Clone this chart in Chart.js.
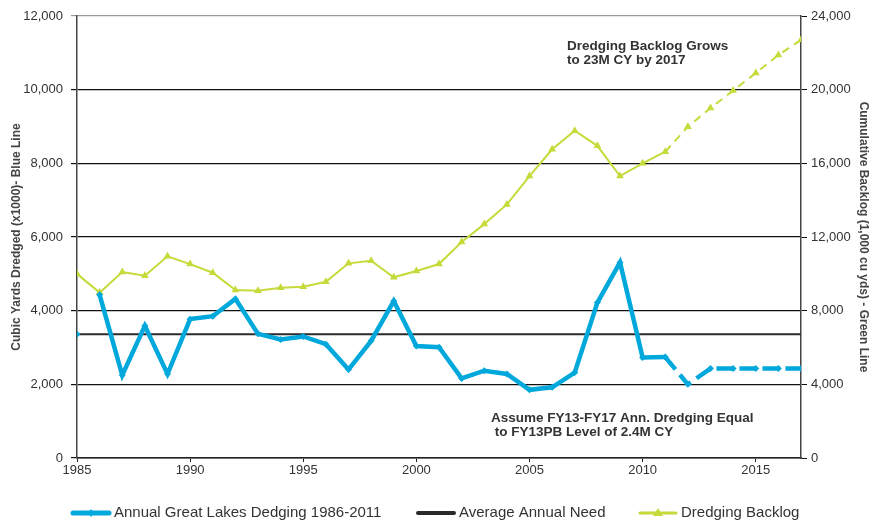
<!DOCTYPE html>
<html>
<head>
<meta charset="utf-8">
<script src="https://cdn.jsdelivr.net/npm/chart.js@4"></script>
<style>
  html, body { margin: 0; padding: 0; background: #fff; }
  #wrap { width: 878px; height: 523px; position: relative; }
</style>
</head>
<body>
<div id="wrap"><canvas id="myChart" width="878" height="523"></canvas></div>
<script>
// years 1985 - 2017, last five are the FY13-FY17 projection
let years = [1985, 1986, 1987, 1988, 1989, 1990, 1991, 1992, 1993, 1994, 1995,
    1996, 1997, 1998, 1999, 2000, 2001, 2002, 2003, 2004, 2005, 2006, 2007,
    2008, 2009, 2010, 2011, 2012, 2013, 2014, 2015, 2016, 2017];

// annual dredging, cubic yards x1000 (left axis)
let dredged = [3360, 4430, 2250, 3590, 2280, 3770, 3850, 4320, 3370, 3220, 3300,
    3090, 2400, 3180, 4260, 3040, 3010, 2160, 2370, 2280, 1850, 1920, 2320,
    4220, 5310, 2730, 2740, 2000, 2430, 2430, 2430, 2430, 2430];

// cumulative backlog, 1,000 cu yds (right axis)
let backlog = [10000, 8980, 10100, 9900, 10950, 10530, 10060, 9120, 9080, 9250, 9300,
    9570, 10570, 10710, 9810, 10150, 10530, 11730, 12700, 13770, 15310, 16760, 17770,
    16950, 15310, 16000, 16630, 17990, 19000, 19950, 20900, 21880, 22700];

let avgNeed = 3360;          // average annual need, x1000 cy
let projFrom = 2011;         // dashed from here on
let leftTicks = [0, 2000, 4000, 6000, 8000, 10000, 12000];
let rightTicks = [0, 4000, 8000, 12000, 16000, 20000, 24000];
let yearTicks = [1985, 1990, 1995, 2000, 2005, 2010, 2015];

const BLUE = "#00a8dc";
const GREEN = "#c6da3a";
const TXT = "#333333";
const SANS = "'Liberation Sans', Arial, sans-serif";

// text notes, placed in data units (year, left-axis value)
let notes = [
    {x: 2006.66, y: 11190, lines: ["Dredging Backlog Grows", "to 23M CY by 2017"]},
    {x: 2003.3, y: 1090, lines: ["Assume FY13-FY17 Ann. Dredging Equal", " to FY13PB Level of 2.4M CY"]}
];

function pts(vals){
    return vals.map((v, i) => ({x: years[i], y: v}));
}

function fmt(v){
    return Number(v).toLocaleString("en-US");
}

// small line+marker swatch for the legend
function swatch(color, width, marker){
    const c = document.createElement("canvas");
    c.width = 42; c.height = 14;
    const g = c.getContext("2d");
    g.strokeStyle = color;
    g.fillStyle = color;
    g.lineWidth = width;
    g.lineCap = "round";
    g.beginPath(); g.moveTo(3, 7); g.lineTo(39, 7); g.stroke();
    if (marker == "diamond"){
        g.beginPath(); g.moveTo(21, 3); g.lineTo(24, 7); g.lineTo(21, 11); g.lineTo(18, 7); g.closePath(); g.fill();
    } else if (marker == "triangle"){
        g.beginPath(); g.moveTo(21, 2); g.lineTo(26, 10); g.lineTo(16, 10); g.closePath(); g.fill();
    }
    return c;
}

const notePlugin = {
    id: "notes",
    afterDatasetsDraw(chart){
        const ctx = chart.ctx;
        const xs = chart.scales.x, ys = chart.scales.y;
        ctx.save();
        ctx.font = "bold 13.5px " + SANS;
        ctx.fillStyle = TXT;
        ctx.textBaseline = "middle";
        notes.forEach(n => {
            const px = xs.getPixelForValue(n.x);
            const py = ys.getPixelForValue(n.y);
            n.lines.forEach((t, i) => ctx.fillText(t, px, py + i * 14));
        });
        ctx.restore();
    }
};

const legendPlugin = {
    id: "bottomLegend",
    afterDraw(chart){
        const ctx = chart.ctx;
        const slots = [73, 418, 640];
        const y = 513;
        ctx.save();
        ctx.font = "15px " + SANS;
        ctx.fillStyle = TXT;
        ctx.textBaseline = "middle";
        chart.data.datasets.forEach((ds, i) => {
            ctx.drawImage(ds.swatch, slots[i] - 3, y - 7);
            ctx.fillText(ds.label, slots[i] + 41, y);
        });
        ctx.restore();
    }
};

drawChart();

function drawChart(){
    const ctx = document.querySelector("#myChart");

    new Chart(ctx, {
        type: "line",
        data: {
            datasets: [{
                label: "Annual Great Lakes Dedging 1986-2011",
                data: pts(dredged),
                yAxisID: "y",
                borderColor: BLUE,
                backgroundColor: BLUE,
                borderWidth: 4.5,
                pointStyle: "rectRot",
                pointRadius: 3.5,
                pointBorderWidth: 0,
                swatch: swatch(BLUE, 5, "diamond"),
                segment: {
                    // 1985 stands alone, 2011 on is the projection
                    borderColor: c => c.p0DataIndex == 0 ? "rgba(0,0,0,0)" : BLUE,
                    borderDash: c => c.p0.parsed.x >= projFrom ? [16, 7] : undefined
                }
            }, {
                label: "Average Annual Need",
                data: [{x: years[0], y: avgNeed}, {x: years[years.length - 1], y: avgNeed}],
                yAxisID: "y",
                borderColor: "#2a2a2a",
                borderWidth: 2,
                pointRadius: 0,
                swatch: swatch("#2a2a2a", 4, null)
            }, {
                label: "Dredging Backlog",
                data: pts(backlog),
                yAxisID: "y2",
                borderColor: GREEN,
                backgroundColor: GREEN,
                borderWidth: 2,
                pointStyle: "triangle",
                pointRadius: 4.5,
                pointBorderWidth: 0,
                swatch: swatch(GREEN, 3, "triangle"),
                segment: {
                    borderDash: c => c.p0.parsed.x >= projFrom ? [8, 6] : undefined
                }
            }]
        },
        options: {
            responsive: false,
            animation: false,
            layout: {padding: {top: 16, bottom: 44, left: 0, right: 0}},
            plugins: {
                legend: {display: false},
                tooltip: {enabled: false}
            },
            scales: {
                x: {
                    type: "linear",
                    min: 1985,
                    max: 2017,
                    afterBuildTicks: s => { s.ticks = yearTicks.map(v => ({value: v})); },
                    afterFit: s => { s.height = 21; },
                    ticks: {
                        callback: v => String(v),
                        color: TXT,
                        font: {family: SANS, size: 13},
                        padding: 1,
                        maxRotation: 0
                    },
                    grid: {drawOnChartArea: false, color: "#222", tickLength: 4},
                    border: {color: "#222", width: 1.5}
                },
                y: {
                    position: "left",
                    min: 0,
                    max: 12000,
                    afterBuildTicks: s => { s.ticks = leftTicks.map(v => ({value: v})); },
                    afterFit: s => { s.width = 77; },
                    ticks: {
                        callback: v => fmt(v),
                        color: TXT,
                        font: {family: SANS, size: 13},
                        padding: 8
                    },
                    grid: {
                        color: c => c.tick && c.tick.value == 12000 ? "#9a9a9a" : "#111",
                        lineWidth: 1.2,
                        tickLength: 6
                    },
                    border: {color: "#444", width: 1.5},
                    title: {
                        display: true,
                        text: "Cubic Yards Dredged (x1000)- Blue Line",
                        color: "#444",
                        font: {family: SANS, size: 12, weight: "bold"},
                        padding: {top: 9, bottom: 2}
                    }
                },
                y2: {
                    position: "right",
                    min: 0,
                    max: 24000,
                    afterBuildTicks: s => { s.ticks = rightTicks.map(v => ({value: v})); },
                    afterFit: s => { s.width = 77; },
                    ticks: {
                        callback: v => fmt(v),
                        color: TXT,
                        font: {family: SANS, size: 13},
                        padding: 4
                    },
                    grid: {drawOnChartArea: false, color: "#111", tickLength: 6},
                    border: {color: "#444", width: 1.5},
                    title: {
                        display: true,
                        text: "Cumulative Backlog (1,000 cu yds) - Green Line",
                        color: "#444",
                        font: {family: SANS, size: 12, weight: "bold"},
                        padding: {top: 7, bottom: 2}
                    }
                }
            }
        },
        plugins: [notePlugin, legendPlugin]
    });
}
</script>
</body>
</html>
